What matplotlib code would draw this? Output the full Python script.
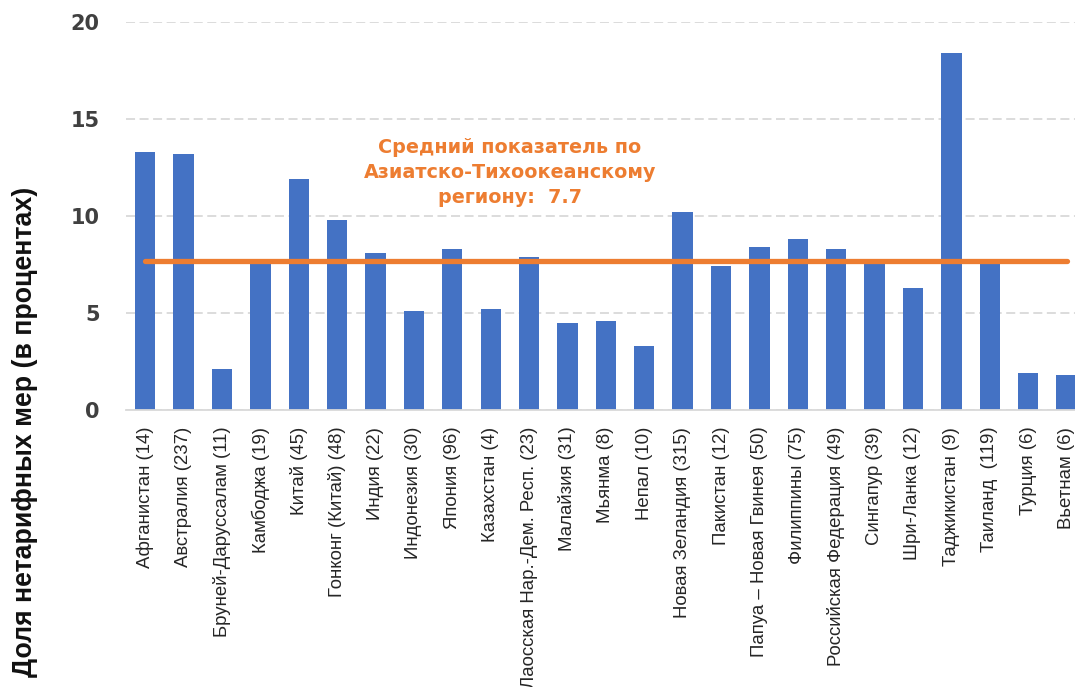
import numpy as np
import matplotlib.pyplot as plt

# Data
countries = ['Афганистан (14)', 'Австралия (237)', 'Бруней-Даруссалам (11)', 'Камбоджа (19)',
             'Китай (45)', 'Гонконг (Китай) (48)', 'Индия (22)', 'Индонезия (30)', 'Япония (96)',
             'Казахстан (4)', 'Лаосская Нар.-Дем. Респ. (23)', 'Малайзия (31)', 'Мьянма (8)',
             'Непал (10)', 'Новая Зеландия (315)', 'Пакистан (12)', 'Папуа – Новая Гвинея (50)',
             'Филиппины (75)', 'Российская Федерация (49)', 'Сингапур (39)', 'Шри-Ланка (12)',
             'Таджикистан (9)', 'Таиланд  (119)', 'Турция (6)', 'Вьетнам (6)']
shares = [13.3, 13.2, 2.1, 7.6, 11.9, 9.8, 8.1, 5.1, 8.3, 5.2, 7.9, 4.5, 4.6,
          3.3, 10.2, 7.4, 8.4, 8.8, 8.3, 7.6, 6.3, 18.4, 7.6, 1.9, 1.8]
region_avg = 7.7
yticks = [0, 5, 10, 15, 20]

W, H = 1075, 687
fig = plt.figure(figsize=(W / 100, H / 100), dpi=100)
ax = fig.add_axes([126 / W, 1 - 410 / H, 1 - 126 / W, (410 - 22) / H])

x = np.arange(len(countries))
ax.bar(x, shares, width=0.53, color='#4472C4', zorder=2)
ax.plot([x[0], x[-1]], [region_avg, region_avg], color='#ED7D31', lw=3.8,
        solid_capstyle='round', zorder=3)

# annotation for the regional average
ax.text(9.5, 12.25, 'Средний показатель по\nАзиатско-Тихоокеанскому\nрегиону:  %.1f' % region_avg,
        ha='center', va='center', color='#ED7D31', fontsize=13.8, fontweight='bold',
        family='DejaVu Sans', linespacing=1.42)

ax.set_xlim(-0.5, 24.22)
ax.set_ylim(0, 20)
ax.set_yticks(yticks)
ax.grid(axis='y', color='#d9d9d9', ls=(0, (5, 2.5)), lw=1.3, zorder=0)
for s in ['top', 'right', 'left']:
    ax.spines[s].set_visible(False)
ax.spines['bottom'].set_color('#d9d9d9')
ax.spines['bottom'].set_linewidth(1.3)

ax.set_xticks(x)
ax.set_xticklabels(countries, rotation=90, family='Liberation Sans', fontsize=13.4, color='#262626')
ax.tick_params(axis='x', length=0, pad=12)
ax.tick_params(axis='y', length=0, pad=19, labelsize=15, labelcolor='#404040')
for lab in ax.get_yticklabels():
    lab.set_fontweight('bold')

fig.text(25 / W, 1 - 432 / H, 'Доля нетарифных мер (в процентах)', rotation=90,
         ha='center', va='center', family='Liberation Sans', fontweight='bold',
         fontsize=19.3, color='#111111')

fig.savefig('out.png', dpi=100)
